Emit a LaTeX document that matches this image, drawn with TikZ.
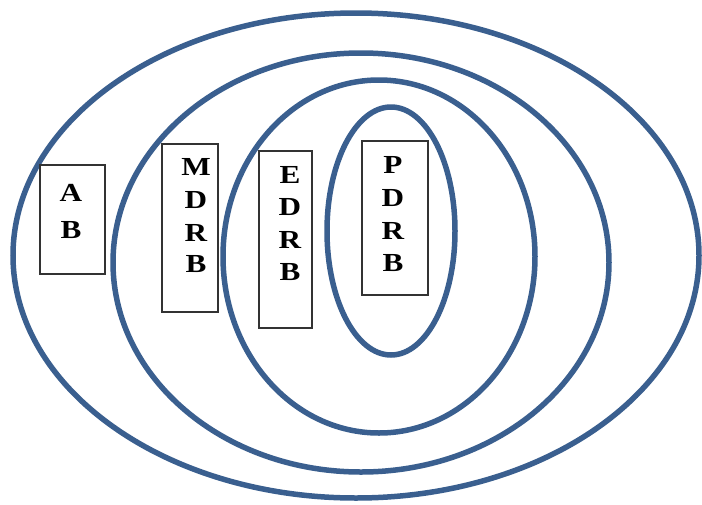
\documentclass[tikz,border=0pt]{standalone}
\usepackage{fontspec}
\setmainfont{Liberation Serif}[FakeStretch=1.2]
\definecolor{ringc}{HTML}{3A5F8F}
\definecolor{boxc}{HTML}{333333}
\begin{document}
\begin{tikzpicture}[x=1pt,y=-1pt,
  ring/.style={draw=ringc,line width=5.5pt},
  lbox/.style={draw=boxc,line width=1.3pt,inner sep=0pt,rectangle},
  letter/.style={font=\fontsize{26}{30}\selectfont\bfseries,anchor=base,inner sep=0pt}]
\useasboundingbox (0,0) rectangle (702,504);
% nested ellipses
\draw[ring] (356,255.5) ellipse [x radius=343, y radius=242.5];
\draw[ring] (361,262.5) ellipse [x radius=248, y radius=209.5];
\draw[ring] (379,256.5) ellipse [x radius=156, y radius=176.5];
\draw[ring] (391,231) ellipse [x radius=64, y radius=124];
% boxes
\node[lbox,minimum width=65pt,minimum height=109pt] (bab) at (72.5,219.5) {};
\node[lbox,minimum width=56pt,minimum height=168pt] (bmdrb) at (190,228) {};
\node[lbox,minimum width=53pt,minimum height=177pt] (bedrb) at (285.5,239.5) {};
\node[lbox,minimum width=66pt,minimum height=154pt] (bpdrb) at (395,218) {};
% letters
\node[letter] (a1) at (71,201) {A};
\node[letter] (a2) at (71,238) {B};
\node[letter] (m1) at (196,175.5) {M};
\node[letter] (m2) at (196,208.5) {D};
\node[letter] (m3) at (196,241.5) {R};
\node[letter] (m4) at (196,272.5) {B};
\node[letter] (e1) at (290,183.5) {E};
\node[letter] (e2) at (290,215.5) {D};
\node[letter] (e3) at (290,248.5) {R};
\node[letter] (e4) at (290,280.5) {B};
\node[letter] (p1) at (393,173.5) {P};
\node[letter] (p2) at (393,206.5) {D};
\node[letter] (p3) at (393,239.5) {R};
\node[letter] (p4) at (393,271.5) {B};
\end{tikzpicture}
\end{document}
